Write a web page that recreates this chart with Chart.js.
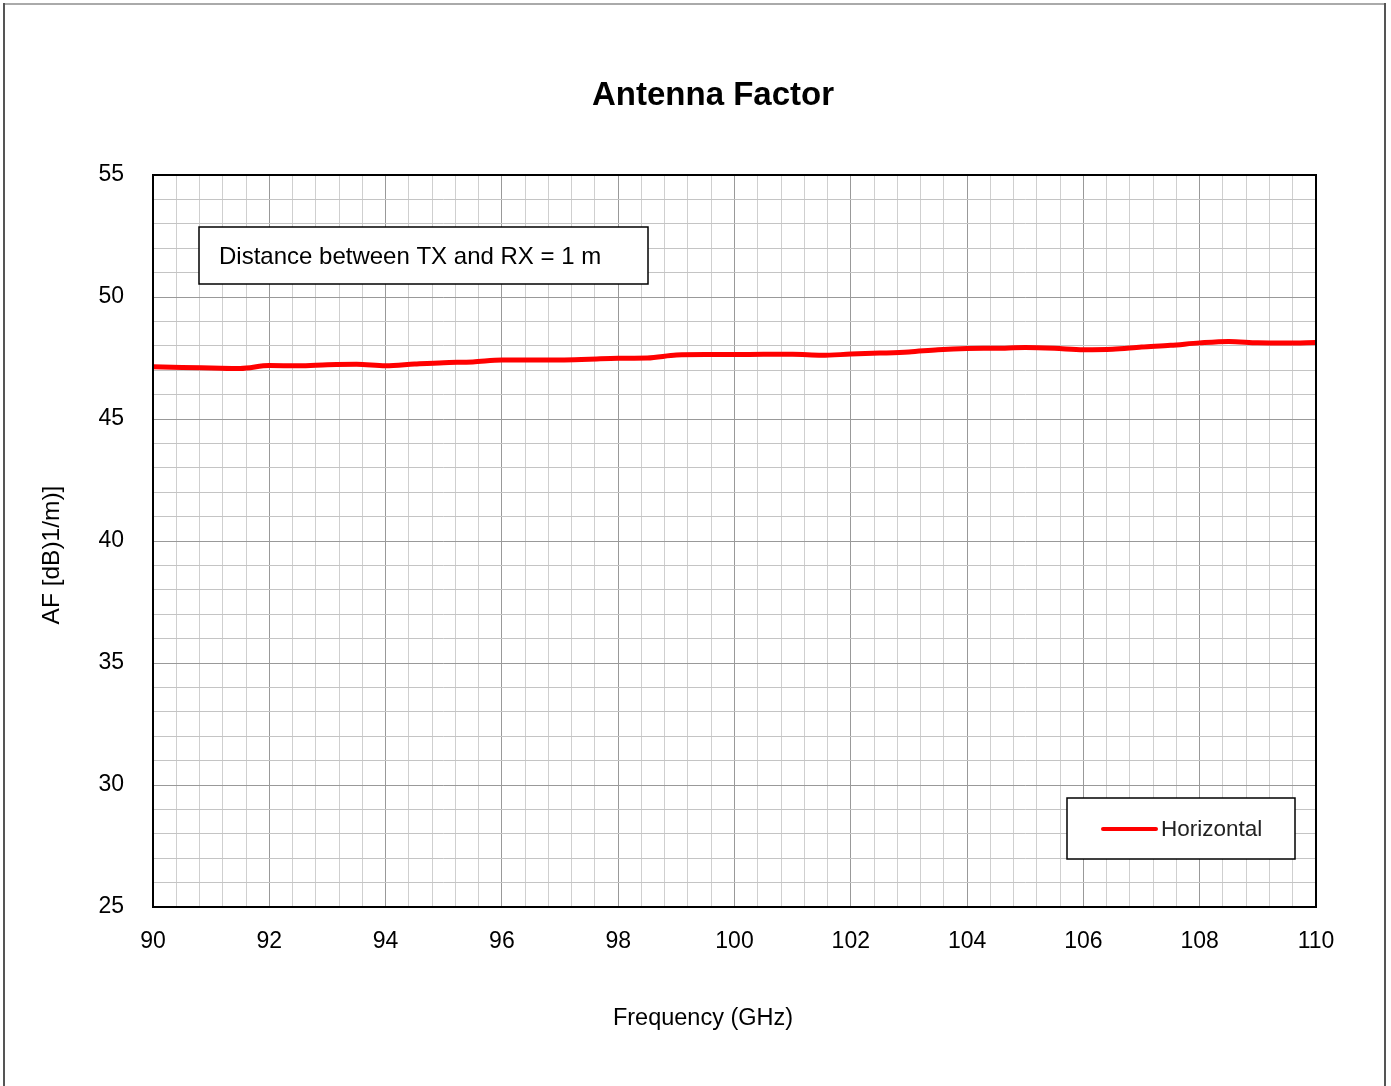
<!DOCTYPE html>
<html>
<head>
<meta charset="utf-8">
<script src="https://cdn.jsdelivr.net/npm/chart.js@4"></script>
<style>
  html, body { margin: 0; padding: 0; background: #fff; }
  #wrap { position: relative; width: 1391px; height: 1086px; }
</style>
</head>
<body>
<div id="wrap"><canvas id="c"></canvas></div>
<script>
// frequency in GHz, antenna factor in dB(1/m)
const freqGHz = [90, 90.5, 91, 91.5, 92, 92.5, 93, 93.5, 94, 94.5, 95, 95.5, 96, 96.5, 97, 97.5, 98, 98.5, 99, 99.5,
  100, 100.5, 101, 101.5, 102, 102.5, 103, 103.5, 104, 104.5, 105, 105.5, 106, 106.5, 107, 107.5, 108, 108.5, 109, 109.5, 110];
const horizontalAF = [47.14, 47.11, 47.09, 47.07, 47.19, 47.18, 47.22, 47.24, 47.18, 47.25, 47.31, 47.34, 47.42, 47.42, 47.42, 47.45, 47.49, 47.5, 47.62, 47.64,
  47.64, 47.65, 47.65, 47.61, 47.66, 47.7, 47.75, 47.84, 47.89, 47.9, 47.93, 47.9, 47.84, 47.86, 47.95, 48.02, 48.12, 48.18, 48.12, 48.11, 48.14];

const titleText = 'Antenna Factor';
const xTitle = 'Frequency (GHz)';
const yTitle = 'AF [dB)1/m)]';
const noteText = 'Distance between TX and RX = 1 m';
const seriesName = 'Horizontal';

const FONT = '"Liberation Sans", Arial, sans-serif';

const isMajor = (v, step) => Math.abs(v / step - Math.round(v / step)) < 1e-6;

const decor = {
  id: 'decor',
  beforeDraw(chart) {
    const ctx = chart.ctx;
    ctx.save();
    ctx.lineWidth = 2;
    ctx.strokeStyle = '#aaa';
    ctx.beginPath(); ctx.moveTo(3, 4); ctx.lineTo(1386, 4); ctx.stroke();
    ctx.strokeStyle = '#555';
    ctx.beginPath(); ctx.moveTo(4, 3); ctx.lineTo(4, 1086); ctx.stroke();
    ctx.beginPath(); ctx.moveTo(1385, 3); ctx.lineTo(1385, 1086); ctx.stroke();
    ctx.restore();
  },
  afterDatasetsDraw(chart) {
    const ctx = chart.ctx;
    const a = chart.chartArea;
    ctx.save();
    // plot frame
    ctx.strokeStyle = '#000';
    ctx.lineWidth = 2;
    ctx.strokeRect(a.left, a.top, a.right - a.left, a.bottom - a.top);

    // note box
    ctx.fillStyle = '#fff';
    ctx.fillRect(a.left + 46, a.top + 52, 449, 57);
    ctx.lineWidth = 1.5;
    ctx.strokeRect(a.left + 46, a.top + 52, 449, 57);
    ctx.fillStyle = '#000';
    ctx.font = '24px ' + FONT;
    ctx.textBaseline = 'middle';
    ctx.textAlign = 'left';
    ctx.fillText(noteText, a.left + 66, a.top + 82);

    // legend box
    const lx = a.right - 249, ly = a.bottom - 109;
    ctx.fillStyle = '#fff';
    ctx.fillRect(lx, ly, 228, 61);
    ctx.strokeStyle = '#000';
    ctx.strokeRect(lx, ly, 228, 61);
    ctx.strokeStyle = '#ff0000';
    ctx.lineWidth = 4;
    ctx.lineCap = 'round';
    ctx.beginPath(); ctx.moveTo(lx + 36, ly + 31); ctx.lineTo(lx + 89, ly + 31); ctx.stroke();
    ctx.fillStyle = '#222';
    ctx.font = '22.5px ' + FONT;
    ctx.fillText(seriesName, lx + 94, ly + 32);

    // titles
    ctx.fillStyle = '#000';
    ctx.textAlign = 'center';
    ctx.font = 'bold 33px ' + FONT;
    ctx.fillText(titleText, 713, 96);
    ctx.font = '23.5px ' + FONT;
    ctx.fillText(xTitle, 703, 1019);
    ctx.font = '24.5px ' + FONT;
    ctx.translate(52, 555);
    ctx.rotate(-Math.PI / 2);
    ctx.fillText(yTitle, 0, 0);
    ctx.restore();
  }
};

new Chart(document.getElementById('c'), {
  type: 'line',
  data: {
    datasets: [{
      label: seriesName,
      data: freqGHz.map((f, i) => ({ x: f, y: horizontalAF[i] })),
      borderColor: '#ff0000',
      borderWidth: 5,
      pointRadius: 0,
      cubicInterpolationMode: 'monotone',
      fill: false
    }]
  },
  options: {
    responsive: true,
    maintainAspectRatio: false,
    animation: false,
    layout: { padding: { left: 0, right: 75, top: 175, bottom: 0 } },
    plugins: {
      legend: { display: false },
      title: { display: false },
      tooltip: { enabled: false }
    },
    scales: {
      x: {
        type: 'linear',
        min: 90, max: 110,
        afterBuildTicks: (s) => {
          const t = [];
          for (let k = 0; k <= 50; k++) t.push({ value: +(90 + k * 0.4).toFixed(1) });
          s.ticks = t;
        },
        afterFit: (s) => { s.height = 179; },
        ticks: {
          autoSkip: false,
          maxRotation: 0,
          padding: 21,
          color: '#000',
          font: { family: FONT, size: 23 },
          callback: (v) => isMajor(v, 2) ? String(Math.round(v)) : ''
        },
        grid: {
          drawTicks: false,
          color: (c) => isMajor(c.tick.value, 2) ? '#999' : '#cfcfcf',
          lineWidth: 1
        },
        border: { display: false }
      },
      y: {
        min: 25, max: 55,
        afterFit: (s) => { s.width = 153; },
        ticks: {
          stepSize: 1,
          autoSkip: false,
          padding: 29,
          color: '#000',
          font: { family: FONT, size: 23 },
          callback: (v) => isMajor(v, 5) ? String(v) : ''
        },
        grid: {
          drawTicks: false,
          color: (c) => isMajor(c.tick.value, 5) ? '#999' : '#c4c4c4',
          lineWidth: 1
        },
        border: { display: false }
      }
    }
  },
  plugins: [decor]
});
</script>
</body>
</html>
